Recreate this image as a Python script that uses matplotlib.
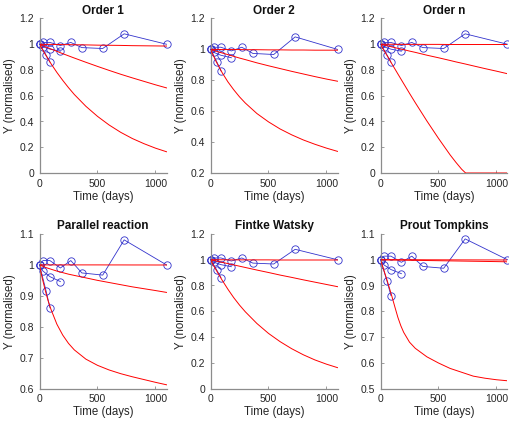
import matplotlib
matplotlib.use("Agg")
import matplotlib.pyplot as plt
from matplotlib.ticker import FormatStrFormatter, FuncFormatter

plt.rcParams['font.family'] = ['Liberation Sans', 'DejaVu Sans']

# ---- measured data (blue circles) ----
days_a = [0, 30, 90, 180, 270, 365, 545, 730, 1095]
vals_a = [1.0, 1.014, 1.014, 0.990, 1.014, 0.974, 0.967, 1.081, 1.0]
days_b = [0, 30, 90, 180]
vals_b = [1.0, 0.980, 0.962, 0.946]
days_c = [0, 56, 90]
vals_c = [1.0, 0.917, 0.861]

# ---- model curves (red) ----
t_std = [0, 50, 100, 150, 200, 250, 300, 400, 500, 600, 700, 800, 900, 1000, 1095]

order1_low = [1.0, 0.921, 0.848, 0.781, 0.720, 0.663, 0.610, 0.518, 0.440, 0.373, 0.316, 0.268, 0.228, 0.193, 0.165]
order1_mid = [1.0, 0.981, 0.963, 0.945, 0.927, 0.910, 0.893, 0.860, 0.828, 0.797, 0.767, 0.739, 0.712, 0.685, 0.661]
order1_high = [1.0, 0.999, 0.999, 0.998, 0.997, 0.997, 0.996, 0.995, 0.993, 0.992, 0.991, 0.989, 0.988, 0.987, 0.986]

order2_low = [1.0, 0.919, 0.850, 0.790, 0.739, 0.693, 0.653, 0.585, 0.531, 0.485, 0.447, 0.414, 0.386, 0.361, 0.340]
order2_mid = [1.0, 0.988, 0.977, 0.966, 0.955, 0.944, 0.934, 0.913, 0.894, 0.876, 0.858, 0.841, 0.824, 0.808, 0.794]
order2_high = [1.0, 1.0, 0.999, 0.999, 0.999, 0.999, 0.998, 0.998, 0.997, 0.997, 0.996, 0.996, 0.995, 0.995, 0.995]

t_n = [0, 50, 100, 150, 200, 250, 300, 400, 500, 600, 650, 700, 734, 800, 900, 1000, 1095]
ordern_low = [1.0, 0.922, 0.845, 0.769, 0.694, 0.619, 0.546, 0.404, 0.269, 0.141, 0.083, 0.029, 0.0, 0.0, 0.0, 0.0, 0.0]
ordern_mid = [1.0, 0.989, 0.979, 0.968, 0.958, 0.947, 0.937, 0.915, 0.895, 0.874, 0.863, 0.853, 0.846, 0.832, 0.811, 0.791, 0.771]
ordern_high = [1.0, 1.0, 1.0, 0.999, 0.999, 0.999, 0.999, 0.999, 0.999, 0.998, 0.998, 0.998, 0.998, 0.998, 0.998, 0.998, 0.998]

t_par = [0, 10, 25, 50, 75, 100, 150, 200, 250, 300, 400, 500, 600, 700, 800, 900, 1000, 1095]
par_low = [1.0, 0.981, 0.955, 0.917, 0.883, 0.855, 0.808, 0.773, 0.746, 0.725, 0.695, 0.675, 0.660, 0.648, 0.638, 0.629, 0.620, 0.612]
par_mid = [1.0, 0.9985, 0.996, 0.992, 0.989, 0.986, 0.980, 0.975, 0.970, 0.966, 0.958, 0.950, 0.943, 0.936, 0.929, 0.923, 0.917, 0.911]
par_high = [1.0, 1.0, 1.0, 1.0, 1.0, 1.0, 1.0, 1.0, 1.0, 1.0, 1.0, 1.0, 0.9999, 0.9999, 0.9998, 0.9998, 0.9997, 0.9997]

fw_low = [1.0, 0.918, 0.842, 0.771, 0.706, 0.648, 0.596, 0.505, 0.428, 0.364, 0.309, 0.262, 0.222, 0.189, 0.162]
fw_mid = [1.0, 0.990, 0.980, 0.970, 0.960, 0.950, 0.940, 0.920, 0.901, 0.881, 0.863, 0.844, 0.826, 0.808, 0.791]
fw_high = [1.0, 1.0, 1.0, 0.999, 0.999, 0.999, 0.999, 0.999, 0.999, 0.998, 0.998, 0.998, 0.998, 0.998, 0.998]

t_pt = [0, 25, 50, 75, 100, 125, 150, 175, 200, 250, 300, 400, 500, 600, 700, 800, 900, 1000, 1095]
pt_low = [1.0, 0.965, 0.930, 0.893, 0.855, 0.815, 0.776, 0.744, 0.718, 0.680, 0.656, 0.623, 0.599, 0.578, 0.563, 0.548, 0.540, 0.534, 0.530]
pt_mid = [1.0, 0.9998, 0.9996, 0.9994, 0.9992, 0.999, 0.9988, 0.9986, 0.9985, 0.998, 0.9977, 0.997, 0.9963, 0.9956, 0.9949, 0.9942, 0.9935, 0.9928, 0.992]
pt_high = [1.0, 1.0, 1.0, 1.0, 1.0, 1.0, 1.0, 1.0, 1.0, 1.0, 1.0, 0.9998, 0.9997, 0.9996, 0.9995, 0.9994, 0.9993, 0.9992, 0.999]

titles = ["Order 1", "Order 2", "Order n", "Parallel reaction", "Fintke Watsky", "Prout Tompkins"]
curve_times = [t_std, t_std, t_n, t_par, t_std, t_pt]
curves = [
    [order1_high, order1_mid, order1_low],
    [order2_high, order2_mid, order2_low],
    [ordern_high, ordern_mid, ordern_low],
    [par_high, par_mid, par_low],
    [fw_high, fw_mid, fw_low],
    [pt_high, pt_mid, pt_low],
]
ylims = [(0, 1.2), (0.2, 1.2), (0, 1.2), (0.6, 1.1), (0, 1.2), (0.5, 1.1)]
yticks = [
    [0, 0.2, 0.4, 0.6, 0.8, 1.0, 1.2],
    [0.2, 0.4, 0.6, 0.8, 1.0, 1.2],
    [0, 0.2, 0.4, 0.6, 0.8, 1.0, 1.2],
    [0.6, 0.7, 0.8, 0.9, 1.0, 1.1],
    [0, 0.2, 0.4, 0.6, 0.8, 1.0, 1.2],
    [0.5, 0.6, 0.7, 0.8, 0.9, 1.0, 1.1],
]
xticks = [0, 500, 1000]
xlim = (0, 1095)

W, H = 509, 423
fig = plt.figure(figsize=(W / 100, H / 100), dpi=100)

lefts = [39.5, 210.5, 380.5]
tops = [18.5, 234.0]
aw, ah = 127.0, 154.5

blue = (0.2, 0.2, 0.8)
axis_col = '#8c8c8c'
fmt = FuncFormatter(lambda v, p: ('%g' % round(v, 3)))

for i in range(6):
    r, c = divmod(i, 3)
    ax = fig.add_axes([lefts[c] / W, 1 - (tops[r] + ah) / H, aw / W, ah / H])
    for d, v in [(days_a, vals_a), (days_b, vals_b), (days_c, vals_c)]:
        ax.plot(d, v, '-o', color=blue, mfc='none', mec=blue, ms=5.3, mew=0.6, lw=0.6,
                clip_on=False, zorder=2)
    for y in curves[i]:
        ax.plot(curve_times[i], y, '-', color='red', lw=0.7, zorder=3)
    ax.set_xlim(*xlim)
    ax.set_ylim(*ylims[i])
    ax.set_xticks(xticks)
    ax.set_yticks(yticks[i])
    ax.yaxis.set_major_formatter(fmt)
    ax.xaxis.set_major_formatter(fmt)
    for s in ['top', 'right']:
        ax.spines[s].set_visible(False)
    for s in ['left', 'bottom']:
        ax.spines[s].set_color(axis_col)
        ax.spines[s].set_linewidth(0.9)
    ax.tick_params(direction='in', length=2.5, width=0.6, color=axis_col,
                   labelsize=7.5, labelcolor='#262626', pad=4.0)
    ax.set_title(titles[i], fontsize=8.5, fontweight='bold', pad=3.5, color='#111111')
    ax.set_xlabel('Time (days)', fontsize=8.3, labelpad=1.5, color='#262626')
    ax.set_ylabel('Y (normalised)', fontsize=8.3, labelpad=2.5, color='#262626')

fig.savefig('out.png', dpi=100)
